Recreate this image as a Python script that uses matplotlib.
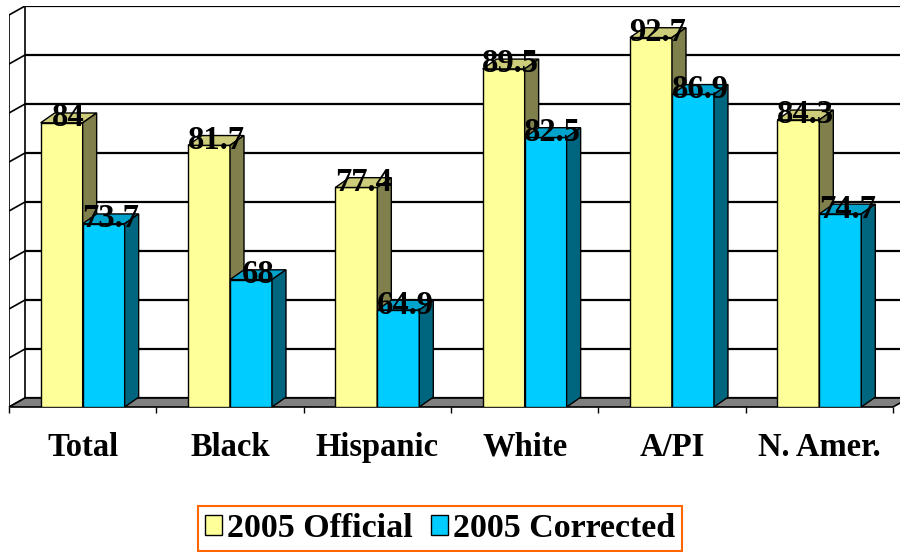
import matplotlib.pyplot as plt
from matplotlib.patches import Polygon

# graduation rates by group
categories = ['Total', 'Black', 'Hispanic', 'White', 'A/PI', 'N. Amer.']
official = [84, 81.7, 77.4, 89.5, 92.7, 84.3]
corrected = [73.7, 68, 64.9, 82.5, 86.9, 74.7]
series_names = ['2005 Official', '2005 Corrected']

y_min, y_max, y_step = 55, 95, 5

plt.rcParams['font.family'] = 'Liberation Serif'
plt.rcParams['font.weight'] = 'bold'

fig = plt.figure(figsize=(9, 5.52), dpi=100)
# front plane of the 3d box; right side runs off the figure edge
ax = fig.add_axes([9 / 900, 145 / 552, 1.0, 401 / 552])
x_max = 900 / 147.33
ax.set_xlim(0, x_max)
ax.set_ylim(y_min, y_min + 401 / 9.8)
for s in ax.spines.values():
    s.set_visible(False)

# depth offsets (data units) for walls/floor and for the bars
wall_dx, wall_dy = 0.109, 0.92
bar_dx, bar_dy = 0.095, 1.0
n = len(categories)

# back wall gridlines and the slanted lines on the left side wall
for v in range(y_min, y_max + 1, y_step):
    ax.plot([wall_dx, x_max + 1], [v + wall_dy] * 2, color='black', lw=1.6,
            zorder=0, solid_capstyle='butt')
    ax.plot([0, wall_dx], [v, v + wall_dy], color='black', lw=1.2, zorder=0)
ax.plot([0, 0], [y_min, y_max], color='black', lw=1.2, zorder=0)
ax.plot([wall_dx] * 2, [y_min + wall_dy, y_max + wall_dy], color='black', lw=1.2, zorder=0)

# floor
ax.add_patch(Polygon([(0, y_min), (n, y_min), (n + wall_dx, y_min + wall_dy),
                      (wall_dx, y_min + wall_dy)],
                     closed=True, fc='#808080', ec='black', lw=1.2, zorder=1,
                     clip_on=False))

w = 0.285
faces = [
    dict(front='#FFFF99', top='#CCCC7A', side='#80804D'),
    dict(front='#00CCFF', top='#00A3CC', side='#006680'),
]
handles = []
for k, values in enumerate([official, corrected]):
    lefts = [i + 0.5 - w + k * w for i in range(n)]
    heights = [v - y_min for v in values]
    bars = ax.bar(lefts, heights, width=w, bottom=y_min, align='edge',
                  color=faces[k]['front'], edgecolor='black', lw=1.0,
                  zorder=2 + k, label=series_names[k])
    handles.append(bars)
    for x0, v in zip(lefts, values):
        x1 = x0 + w
        top = Polygon([(x0, v), (x1, v), (x1 + bar_dx, v + bar_dy), (x0 + bar_dx, v + bar_dy)],
                      closed=True, fc=faces[k]['top'], ec='black', lw=1.0, zorder=2 + k)
        side = Polygon([(x1, y_min), (x1 + bar_dx, y_min + bar_dy), (x1 + bar_dx, v + bar_dy), (x1, v)],
                       closed=True, fc=faces[k]['side'], ec='black', lw=1.0, zorder=2 + k)
        ax.add_patch(top)
        ax.add_patch(side)
        ax.text(x0 + w / 2 + bar_dx / 2, v + bar_dy / 2, f'{v:g}',
                ha='center', va='center', fontsize=23.5, fontweight='bold', zorder=6)

ax.set_yticks([])
ax.set_xticks([i + 0.5 for i in range(n)])
ax.set_xticklabels(categories, fontsize=23.5, fontweight='bold', va='baseline')
ax.set_xticks(range(n + 1), minor=True)
ax.tick_params(axis='x', which='major', length=0, pad=35)
ax.tick_params(axis='x', which='minor', length=4.5, width=1.0, color='black', direction='out')

leg = fig.legend(handles=handles, labels=series_names, loc='center',
                 bbox_to_anchor=(440 / 900, 1 - 528.5 / 552), ncol=2,
                 fancybox=False, edgecolor='#FF6600', framealpha=1,
                 handlelength=0.5, handleheight=0.5, handletextpad=0.15,
                 columnspacing=0.55, borderpad=0.2,
                 prop=dict(size=24.5, weight='bold'))
leg.get_frame().set_linewidth(1.5)

fig.savefig('out.png', dpi=100)
